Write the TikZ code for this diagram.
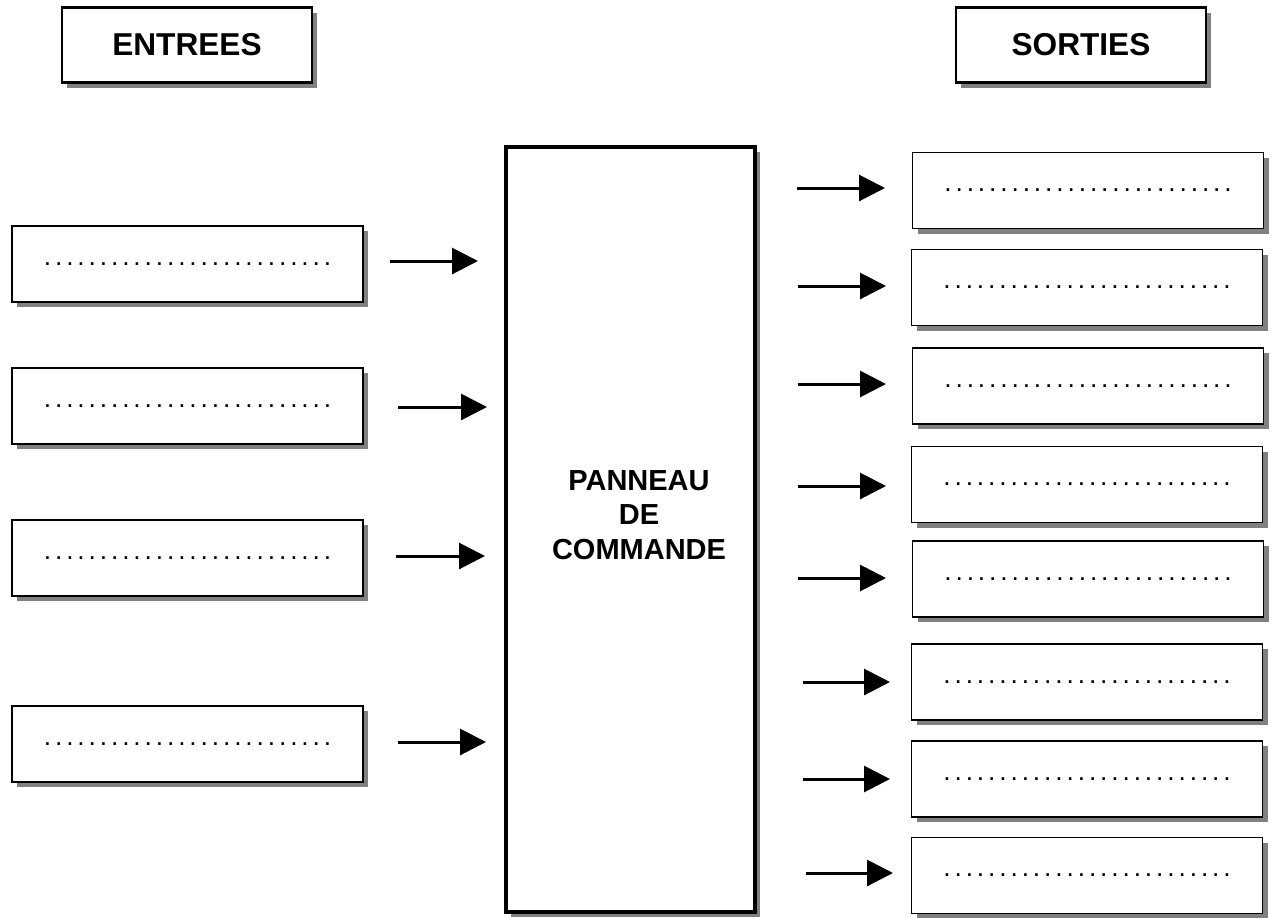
\documentclass[tikz,border=0pt]{standalone}
\usepackage{fontspec}
\setmainfont{Liberation Sans}
\usetikzlibrary{calc, positioning, arrows.meta, shadows}

\newcommand{\lignepoints}{\fontsize{15}{16}\selectfont\hbox to 58.3mm{\xleaders\hbox to 2.16mm{\hss.\hss}\hfill}}

\begin{document}
\begin{tikzpicture}[x=0.2mm, y=-0.2mm,
  ombre/.style={drop shadow={shadow xshift=1mm, shadow yshift=-1mm, fill=black!50, opacity=1}},
  titre/.style={draw, line width=1.3pt, fill=white, ombre, minimum width=50mm, minimum height=15mm, font=\fontsize{18}{20}\selectfont\bfseries},
  case/.style={draw, line width=0.9pt, fill=white, ombre, minimum width=70.2mm, minimum height=15.2mm},
  panneau/.style={draw, line width=1.8pt, fill=white, ombre, minimum width=49.8mm, minimum height=153mm},
  fleche/.style={-{Triangle[length=5.2mm, width=5.2mm]}, line width=1.7pt}]
  \useasboundingbox (0,0) rectangle (1274,917);

  \node[titre] (entrees) at (187,45) {ENTREES};
  \node[titre] (sorties) at (1081,45) {SORTIES};

  \node[panneau] (pan) at (630.5,529.5) {};
  \node[align=center, font=\fontsize{16.5}{19.5}\selectfont\bfseries] (pantexte) at (639,515) {PANNEAU\\DE\\COMMANDE};

  \node[case] (e1) at (187.5,264) {\lignepoints};
  \node[case] (e2) at (187.5,406) {\lignepoints};
  \node[case] (e3) at (187.5,558) {\lignepoints};
  \node[case] (e4) at (187.5,744) {\lignepoints};

  \node[case] (s1) at (1088,190.5) {\lignepoints};
  \node[case] (s2) at (1087,287.5) {\lignepoints};
  \node[case] (s3) at (1088,386) {\lignepoints};
  \node[case] (s4) at (1087,484.5) {\lignepoints};
  \node[case] (s5) at (1088,579) {\lignepoints};
  \node[case] (s6) at (1087,682) {\lignepoints};
  \node[case] (s7) at (1087,779) {\lignepoints};
  \node[case] (s8) at (1087,875.5) {\lignepoints};

  % fleches d'entree
  \coordinate (fe1a) at (390,261); \coordinate (fe1b) at (478,261);
  \coordinate (fe2a) at (398,407); \coordinate (fe2b) at (487,407);
  \coordinate (fe3a) at (396,556); \coordinate (fe3b) at (485,556);
  \coordinate (fe4a) at (398,742); \coordinate (fe4b) at (486,742);
  \draw[fleche] (fe1a) -- (fe1b);
  \draw[fleche] (fe2a) -- (fe2b);
  \draw[fleche] (fe3a) -- (fe3b);
  \draw[fleche] (fe4a) -- (fe4b);

  % fleches de sortie
  \coordinate (fs1a) at (797,188); \coordinate (fs1b) at (885,188);
  \coordinate (fs2a) at (798,286); \coordinate (fs2b) at (886,286);
  \coordinate (fs3a) at (798,384); \coordinate (fs3b) at (886,384);
  \coordinate (fs4a) at (798,486); \coordinate (fs4b) at (886,486);
  \coordinate (fs5a) at (798,578); \coordinate (fs5b) at (886,578);
  \coordinate (fs6a) at (803,682); \coordinate (fs6b) at (890,682);
  \coordinate (fs7a) at (803,779); \coordinate (fs7b) at (890,779);
  \coordinate (fs8a) at (806,873); \coordinate (fs8b) at (893,873);
  \draw[fleche] (fs1a) -- (fs1b);
  \draw[fleche] (fs2a) -- (fs2b);
  \draw[fleche] (fs3a) -- (fs3b);
  \draw[fleche] (fs4a) -- (fs4b);
  \draw[fleche] (fs5a) -- (fs5b);
  \draw[fleche] (fs6a) -- (fs6b);
  \draw[fleche] (fs7a) -- (fs7b);
  \draw[fleche] (fs8a) -- (fs8b);
\end{tikzpicture}
\end{document}
